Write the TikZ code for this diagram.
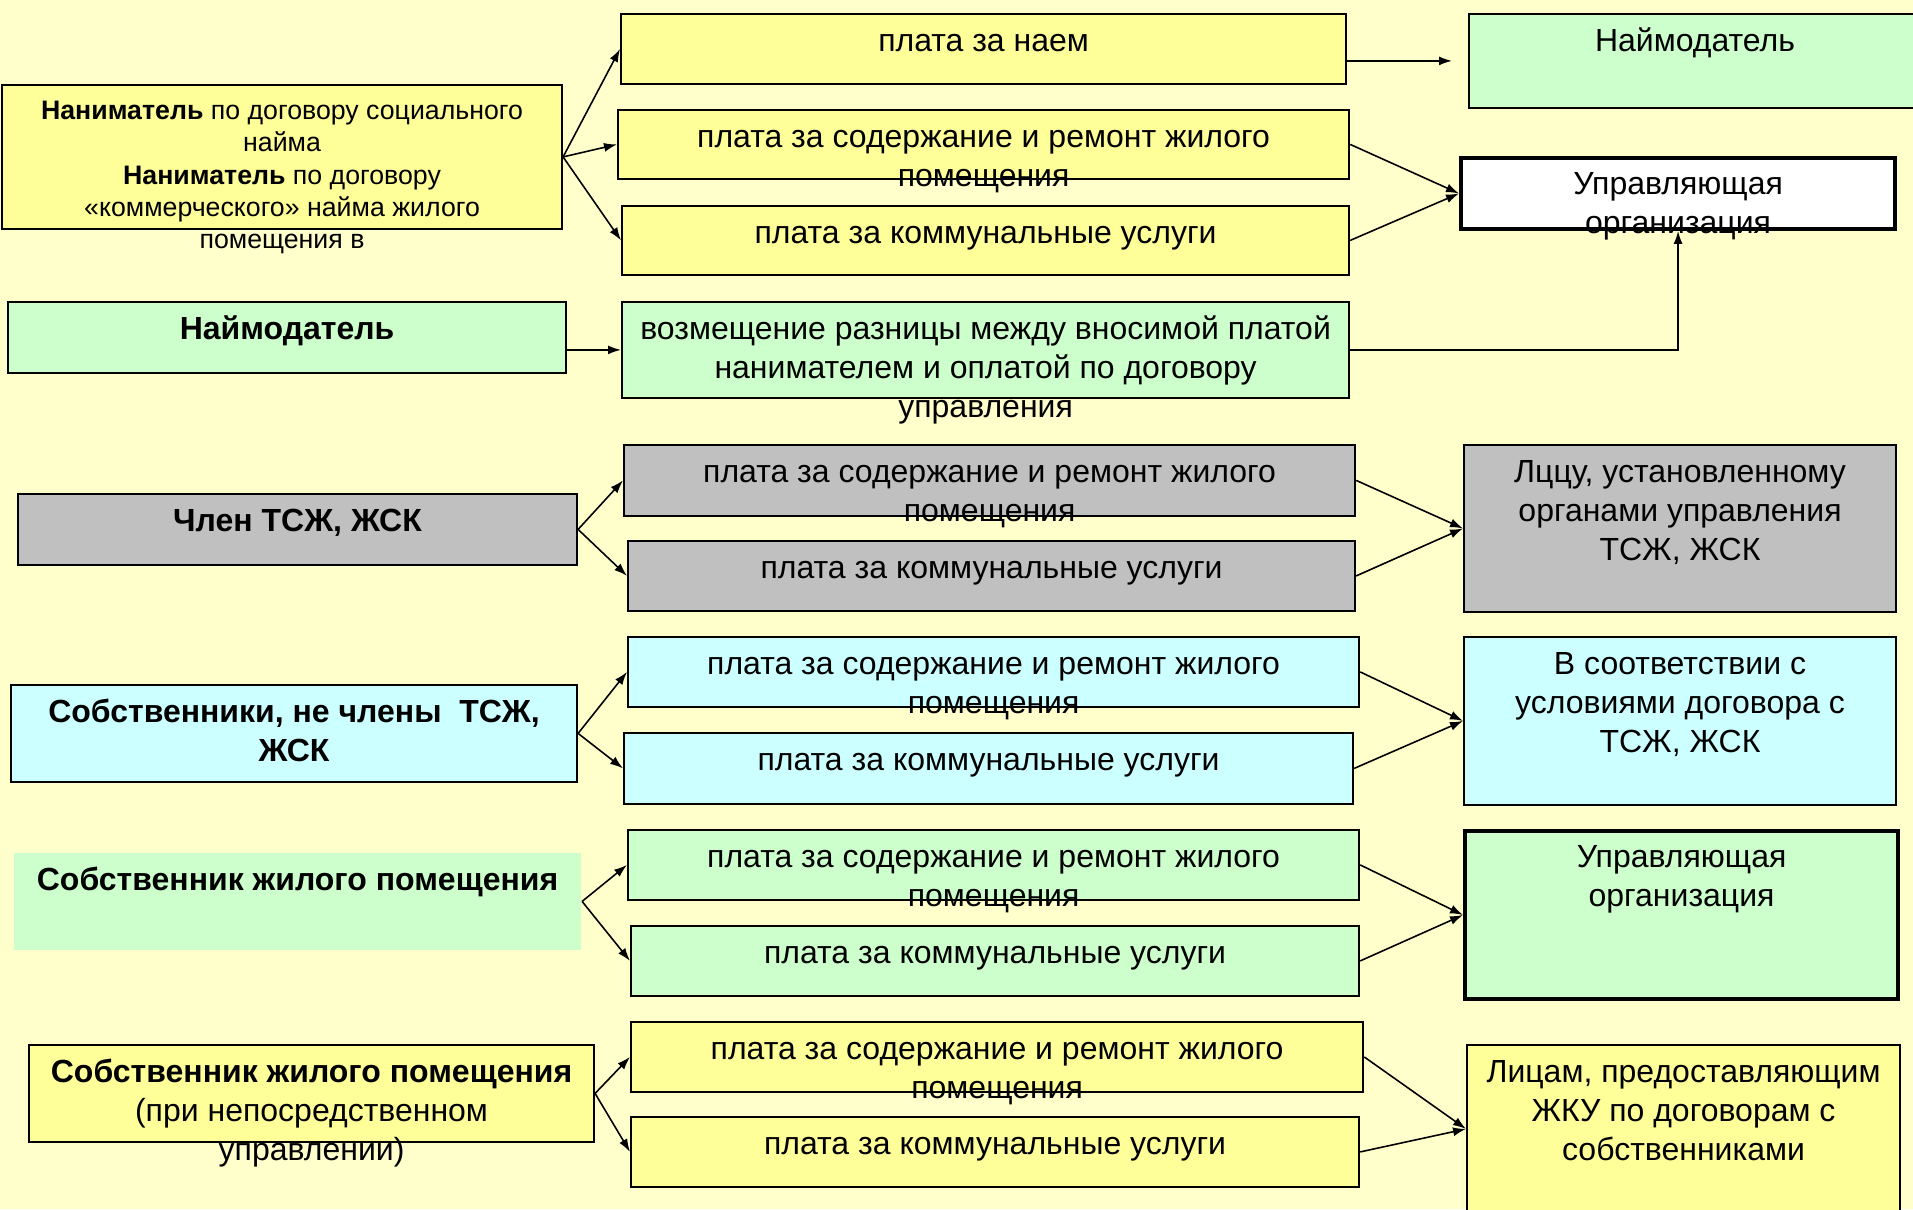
\documentclass[tikz,border=0pt]{standalone}
\usepackage{fontspec}
\setmainfont{Liberation Sans}
\usetikzlibrary{arrows.meta}
\definecolor{pagebg}{RGB}{255,255,204}
\definecolor{rentyellow}{RGB}{255,255,153}
\definecolor{ownergreen}{RGB}{204,255,204}
\definecolor{hoagray}{RGB}{192,192,192}
\definecolor{tenantcyan}{RGB}{204,255,255}

\begin{document}
\begin{tikzpicture}[x=0.01cm,y=-0.01cm,
    cell/.style={draw=black,line width=0.5pt,anchor=north west,inner sep=0pt},
    heavy cell/.style={cell,line width=1.1pt},
    tx/.style={anchor=north,align=center,inner sep=0pt,yshift=-0.105cm,
      font=\fontsize{9.1}{11.1}\selectfont},
    small tx/.style={tx,yshift=-0.02cm,font=\fontsize{7.6}{9.15}\selectfont},
    arr/.style={-{Latex[length=0.13cm,width=0.09cm]},line width=0.45pt}]
  \useasboundingbox (0,0) rectangle (1913,1209);
  \fill[pagebg] (0,0) rectangle (1913,1209);

  % tenant
  \node[cell,fill=rentyellow,minimum width=5.60cm,minimum height=1.44cm,
    label={[small tx]north:{\strut\textbf{Наниматель} по договору социального\\найма\\
      \textbf{Наниматель} по договору\\«коммерческого» найма жилого\\помещения в}}]
    (nan) at (1,84) {};
  \node[cell,fill=rentyellow,minimum width=7.25cm,minimum height=0.70cm,
    label={[tx]north:{\strut плата за наем}}] (naem) at (620,13) {};
  \node[cell,fill=rentyellow,minimum width=7.31cm,minimum height=0.69cm,
    label={[tx]north:{\strut плата за содержание и ремонт жилого\\помещения}}]
    (sod1) at (617,109) {};
  \node[cell,fill=rentyellow,minimum width=7.27cm,minimum height=0.69cm,
    label={[tx]north:{\strut плата за коммунальные услуги}}] (kom1) at (621,205) {};
  \node[cell,fill=ownergreen,minimum width=4.52cm,minimum height=0.94cm,
    label={[tx]north:{\strut Наймодатель}}] (nmdR) at (1468,13) {};
  \node[heavy cell,fill=white,minimum width=4.34cm,minimum height=0.71cm,
    label={[tx]north:{\strut Управляющая\\организация}}] (upr1) at (1459,156) {};

  % landlord
  \node[cell,fill=ownergreen,minimum width=5.58cm,minimum height=0.71cm,
    label={[tx]north:{\strut\textbf{Наймодатель}}}] (nmdL) at (7,301) {};
  \node[cell,fill=ownergreen,minimum width=7.27cm,minimum height=0.96cm,
    label={[tx]north:{\strut возмещение разницы между вносимой платой\\
      нанимателем и оплатой по договору\\управления}}] (vozm) at (621,301) {};

  % member of HOA
  \node[cell,fill=hoagray,minimum width=5.59cm,minimum height=0.71cm,
    label={[tx]north:{\strut\textbf{Член ТСЖ, ЖСК}}}] (chlen) at (17,493) {};
  \node[cell,fill=hoagray,minimum width=7.31cm,minimum height=0.71cm,
    label={[tx]north:{\strut плата за содержание и ремонт жилого\\помещения}}]
    (sod2) at (623,444) {};
  \node[cell,fill=hoagray,minimum width=7.27cm,minimum height=0.70cm,
    label={[tx]north:{\strut плата за коммунальные услуги}}] (kom2) at (627,540) {};
  \node[cell,fill=hoagray,minimum width=4.32cm,minimum height=1.67cm,
    label={[tx]north:{\strut Лццу, установленному\\органами управления\\ТСЖ, ЖСК}}]
    (lcz) at (1463,444) {};

  % owners, not members
  \node[cell,fill=tenantcyan,minimum width=5.66cm,minimum height=0.97cm,
    label={[tx]north:{\strut\textbf{Собственники, не члены\ \ ТСЖ,}\\\textbf{ЖСК}}}]
    (sobs) at (10,684) {};
  \node[cell,fill=tenantcyan,minimum width=7.31cm,minimum height=0.70cm,
    label={[tx]north:{\strut плата за содержание и ремонт жилого\\помещения}}]
    (sod3) at (627,636) {};
  \node[cell,fill=tenantcyan,minimum width=7.29cm,minimum height=0.71cm,
    label={[tx]north:{\strut плата за коммунальные услуги}}] (kom3) at (623,732) {};
  \node[cell,fill=tenantcyan,minimum width=4.32cm,minimum height=1.68cm,
    label={[tx]north:{\strut В соответствии с\\условиями договора с\\ТСЖ, ЖСК}}]
    (usl) at (1463,636) {};

  % owner, managing company
  \node[cell,draw=none,fill=ownergreen,minimum width=5.67cm,minimum height=0.97cm,
    label={[tx]north:{\strut\textbf{Собственник жилого помещения}}}] (sob1) at (13,852) {};
  \node[cell,fill=ownergreen,minimum width=7.31cm,minimum height=0.70cm,
    label={[tx]north:{\strut плата за содержание и ремонт жилого\\помещения}}]
    (sod4) at (627,829) {};
  \node[cell,fill=ownergreen,minimum width=7.28cm,minimum height=0.70cm,
    label={[tx]north:{\strut плата за коммунальные услуги}}] (kom4) at (630,925) {};
  \node[heavy cell,fill=ownergreen,minimum width=4.33cm,minimum height=1.68cm,
    label={[tx]north:{\strut Управляющая\\организация}}] (upr2) at (1463,829) {};

  % owner, direct management
  \node[cell,fill=rentyellow,minimum width=5.65cm,minimum height=0.97cm,
    label={[tx]north:{\strut\textbf{Собственник жилого помещения}\\(при непосредственном\\
      управлении)}}] (sob2) at (28,1044) {};
  \node[cell,fill=rentyellow,minimum width=7.32cm,minimum height=0.70cm,
    label={[tx]north:{\strut плата за содержание и ремонт жилого\\помещения}}]
    (sod5) at (630,1021) {};
  \node[cell,fill=rentyellow,minimum width=7.28cm,minimum height=0.70cm,
    label={[tx]north:{\strut плата за коммунальные услуги}}] (kom5) at (630,1116) {};
  \node[cell,fill=rentyellow,minimum width=4.33cm,minimum height=1.68cm,
    label={[tx]north:{\strut Лицам, предоставляющим\\ЖКУ по договорам с\\собственниками}}]
    (lic) at (1466,1044) {};

  % arrows
  \draw[arr] (nan.east) -- (naem.west);
  \draw[arr] (nan.east) -- (sod1.west);
  \draw[arr] (nan.east) -- (kom1.west);
  \draw[arr,shorten >=0.16cm] (naem.east |- nmdR.west) -- (nmdR.west);
  \draw[arr] (sod1.east) -- (upr1.west);
  \draw[arr] (kom1.east) -- (upr1.west);
  \draw[arr] (nmdL.east |- vozm.west) -- (vozm.west);
  \draw[arr] (vozm.east) -| (upr1.south);

  \draw[arr] (chlen.east) -- (sod2.west);
  \draw[arr] (chlen.east) -- (kom2.west);
  \draw[arr] (sod2.east) -- (lcz.west);
  \draw[arr] (kom2.east) -- (lcz.west);

  \draw[arr] (sobs.east) -- (sod3.west);
  \draw[arr] (sobs.east) -- (kom3.west);
  \draw[arr] (sod3.east) -- (usl.west);
  \draw[arr] (kom3.east) -- (usl.west);

  \draw[arr] (sob1.east) -- (sod4.west);
  \draw[arr] (sob1.east) -- (kom4.west);
  \draw[arr] (sod4.east) -- (upr2.west);
  \draw[arr] (kom4.east) -- (upr2.west);

  \draw[arr] (sob2.east) -- (sod5.west);
  \draw[arr] (sob2.east) -- (kom5.west);
  \draw[arr] (sod5.east) -- (lic.west);
  \draw[arr] (kom5.east) -- (lic.west);
\end{tikzpicture}
\end{document}
